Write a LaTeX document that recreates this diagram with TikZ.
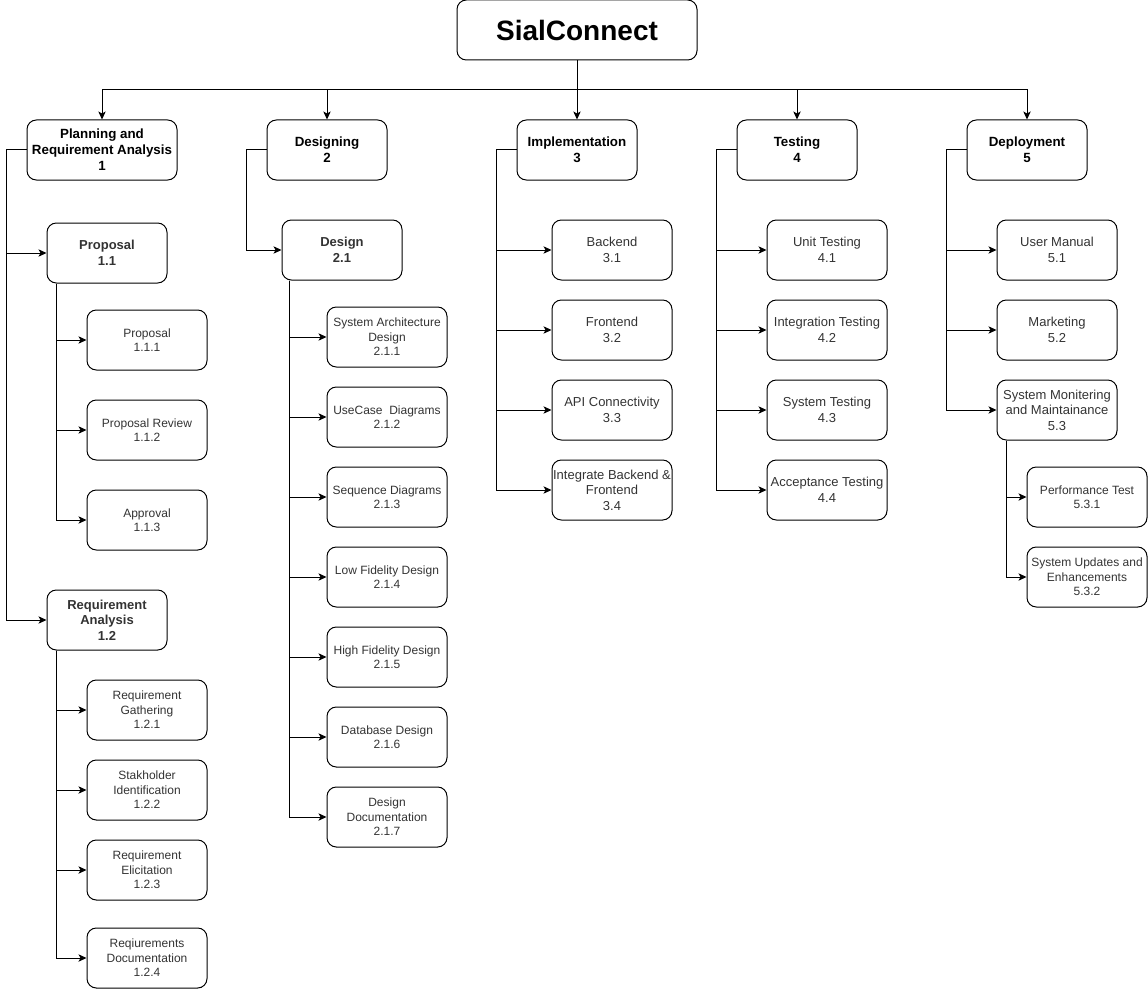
\documentclass[tikz,border=0pt]{standalone}
\usepackage{fontspec}
\setmainfont{Liberation Sans}
\usepackage{tikz}
\usetikzlibrary{positioning}
\usetikzlibrary{arrows,arrows.meta}
\usepackage{color}
\definecolor{txtgray}{HTML}{333333}
\tikzset{
 box/.style={draw,rounded corners=7pt,align=center,minimum width=90pt,minimum height=45pt,inner xsep=0pt,inner ysep=2pt,line width=0.75pt},
 phase/.style={box,font=\fontsize{10}{12}\selectfont\bfseries},
 task/.style={box,text=txtgray,font=\fontsize{9.75}{11.7}\selectfont},
 subphase/.style={box,text=txtgray,font=\fontsize{9.75}{11.7}\selectfont\bfseries},
 leaf/.style={box,text=txtgray,font=\fontsize{9}{10.8}\selectfont},
 link/.style={-{Stealth[length=6pt,width=5.5pt,inset=1.5pt]},line width=0.75pt},
}
\begin{document}
\begin{tikzpicture}[x=0.75pt,y=-0.75pt]
 \useasboundingbox (0,0) rectangle (1148,988);
 \node[box,minimum width=180pt,font=\fontsize{21}{25}\selectfont\bfseries] (root) at (577,30) {SialConnect};
 \coordinate (bus) at (577,90);
 \node[phase,minimum width=112.5pt] (p1) at (102,150) {Planning and\\Requirement Analysis\\1};
 \node[phase] (p2) at (327,150) {Designing\\2};
 \node[phase] (p3) at (577,150) {Implementation\\3};
 \node[phase] (p4) at (797,150) {Testing\\4};
 \node[phase] (p5) at (1027,150) {Deployment\\5};
 \draw[link] (root.south) -- (p3.north);
 \foreach \p in {p1,p2,p4,p5}
  \draw[link] (bus) -| (\p.north);

 \node[subphase] (s11) at (107,253) {Proposal\\1.1};
 \node[subphase] (s12) at (107,620) {Requirement\\Analysis\\1.2};
 \draw[link] (p1.west) -- ++(-20,0) |- (s11.west);
 \draw[link] (p1.west) -- ++(-20,0) |- (s12.west);
 \foreach \n/\y/\t in {111/340/{Proposal\\1.1.1},112/430/{Proposal Review\\1.1.2},113/520/{Approval\\1.1.3}}{
  \node[leaf] (t\n) at (147,\y) {\t};
  \draw[link] ([xshift=7.5pt]s11.south west) |- (t\n.west);
 }
 \foreach \n/\y/\t in {121/710/{Requirement\\Gathering\\1.2.1},122/790/{Stakholder\\Identification\\1.2.2},123/870/{Requirement\\Elicitation\\1.2.3},124/958/{Reqiurements\\Documentation\\1.2.4}}{
  \node[leaf] (t\n) at (147,\y) {\t};
  \draw[link] ([xshift=7.5pt]s12.south west) |- (t\n.west);
 }

 \node[subphase] (s21) at (342,250) {Design\\2.1};
 \draw[link] (p2.west) -- ++(-20,0) |- (s21.west);
 \foreach \n/\y/\t in {211/337/{System Architecture\\Design\\2.1.1},212/417/{UseCase\ \ Diagrams\\2.1.2},213/497/{Sequence Diagrams\\2.1.3},214/577/{Low Fidelity Design\\2.1.4},215/657/{High Fidelity Design\\2.1.5},216/737/{Database Design\\2.1.6},217/817/{Design\\Documentation\\2.1.7}}{
  \node[leaf] (t\n) at (387,\y) {\t};
  \draw[link] ([xshift=6pt]s21.south west) |- (t\n.west);
 }

 \foreach \n/\y/\t in {31/250/{Backend\\3.1},32/330/{Frontend\\3.2},33/410/{API Connectivity\\3.3},34/490/{Integrate Backend \&\\Frontend\\3.4}}{
  \node[task] (s\n) at (612,\y) {\t};
  \draw[link] (p3.west) -- ++(-20,0) |- (s\n.west);
 }
 \foreach \n/\y/\t in {41/250/{Unit Testing\\4.1},42/330/{Integration Testing\\4.2},43/410/{System Testing\\4.3},44/490/{Acceptance Testing\\4.4}}{
  \node[task] (s\n) at (827,\y) {\t};
  \draw[link] (p4.west) -- ++(-20,0) |- (s\n.west);
 }
 \foreach \n/\y/\t in {51/250/{User Manual\\5.1},52/330/{Marketing\\5.2},53/410/{System Monitering\\and Maintainance\\5.3}}{
  \node[task] (s\n) at (1057,\y) {\t};
  \draw[link] (p5.west) -- ++(-20,0) |- (s\n.west);
 }
 \node[leaf] (t531) at (1087,497) {Performance Test\\5.3.1};
 \node[leaf] (t532) at (1087,577) {System Updates and\\Enhancements\\5.3.2};
 \draw[link] ([xshift=7.5pt]s53.south west) |- (t531.west);
 \draw[link] ([xshift=7.5pt]s53.south west) |- (t532.west);
\end{tikzpicture}
\end{document}
